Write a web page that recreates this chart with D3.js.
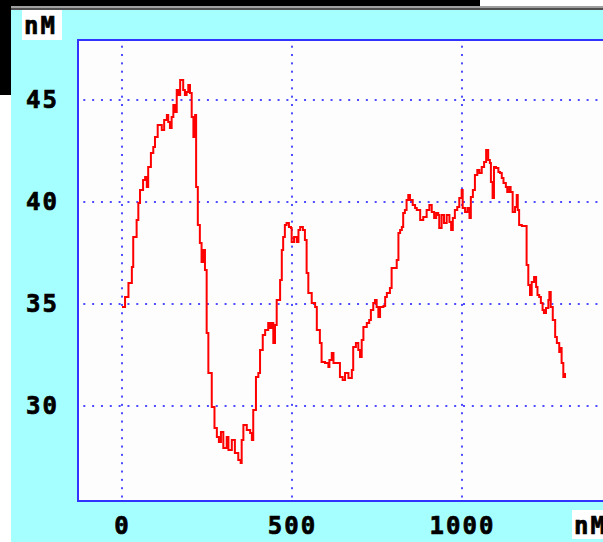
<!DOCTYPE html>
<html>
<head>
<meta charset="utf-8">
<script src="https://cdn.jsdelivr.net/npm/d3@7"></script>
<style>
  body { margin: 0; background: #fff; }
  svg { display: block; }
</style>
</head>
<body>
<div id="chart"></div>
<script>
// concentration trace
var times = [
  0, 9, 19, 29, 33, 43, 48, 53, 62, 68,
  73, 77, 85, 92, 97, 105, 117, 124, 132, 136,
  141, 146, 151, 156, 161, 166, 171, 176, 180, 185,
  190, 195, 200, 205, 210, 215, 218, 223, 229, 234,
  239, 244, 249, 254, 264, 272, 279, 285, 291, 298,
  308, 313, 323, 332, 342, 349, 352, 357, 367, 377,
  382, 386, 394, 401, 406, 414, 421, 430, 435, 440,
  445, 450, 455, 465, 470, 474, 479, 484, 491, 497,
  499, 506, 514, 519, 524, 532, 538, 543, 548, 558,
  568, 573, 582, 587, 597, 607, 610, 617, 622, 632,
  641, 649, 656, 666, 676, 680, 688, 695, 700, 705,
  710, 720, 727, 732, 739, 744, 749, 754, 759, 769,
  774, 779, 788, 793, 803, 808, 813, 818, 823, 827,
  832, 837, 842, 847, 855, 862, 867, 877, 886, 896,
  904, 911, 918, 924, 930, 933, 940, 947, 955, 963,
  968, 973, 979, 986, 992, 999, 1002, 1009, 1016, 1022,
  1026, 1032, 1038, 1045, 1051, 1058, 1065, 1071, 1077, 1082,
  1085, 1090, 1094, 1100, 1107, 1112, 1117, 1122, 1129, 1133,
  1139, 1143, 1149, 1156, 1161, 1164, 1168, 1176, 1185, 1190,
  1195, 1200, 1205, 1212, 1218, 1222, 1227, 1232, 1237, 1241,
  1247, 1254, 1257, 1261, 1267, 1274, 1279, 1286, 1290, 1293,
  1298, 1303
];
var conc = [
  34.85, 35.34, 36.03, 36.81, 38.28, 39.12, 39.95, 40.59, 41.08, 41.23,
  40.74, 41.72, 42.40, 42.70, 43.19, 43.77, 43.53, 44.02, 44.26, 43.92,
  43.63, 44.17, 44.75, 44.41, 45.49, 45.25, 45.98, 45.98, 45.49, 45.25,
  45.39, 45.74, 45.34, 44.17, 43.19, 44.26, 40.74, 38.87, 37.99, 37.06,
  37.65, 36.67, 33.58, 31.62, 29.95, 28.92, 28.48, 28.24, 28.73, 27.94,
  28.48, 27.84, 28.33, 27.70, 27.35, 27.21, 28.33, 29.07, 28.82, 28.68,
  28.33, 29.80, 31.42, 31.62, 32.75, 33.48, 33.73, 34.07, 33.82, 34.07,
  33.09, 33.97, 35.20, 36.18, 37.65, 38.28, 38.87, 38.97, 38.77, 38.73,
  38.04, 38.28, 38.04, 38.63, 38.77, 38.63, 38.14, 36.52, 35.54, 35.05,
  34.85, 33.73, 33.09, 32.16, 32.11, 31.91, 32.25, 32.60, 32.11, 32.11,
  31.42, 31.27, 31.62, 31.37, 31.76, 32.89, 33.09, 32.75, 32.40, 33.24,
  33.87, 34.07, 34.22, 34.71, 35.05, 35.20, 34.85, 34.36, 34.85, 34.90,
  35.34, 35.54, 35.78, 36.76, 36.76, 37.16, 38.48, 38.63, 38.77, 39.46,
  39.61, 40.10, 40.34, 40.10, 39.85, 39.71, 39.61, 39.12, 39.26, 39.61,
  39.85, 39.51, 39.22, 39.46, 39.36, 38.73, 39.36, 38.97, 39.36, 39.02,
  38.63, 39.22, 39.61, 39.75, 40.20, 40.59, 39.71, 39.51, 39.71, 39.22,
  40.25, 40.59, 41.32, 41.57, 41.42, 41.72, 41.96, 42.55, 42.06, 41.91,
  40.98, 40.20, 41.72, 41.67, 41.47, 41.42, 41.18, 40.93, 40.74, 40.49,
  40.74, 40.49, 39.51, 39.75, 40.34, 39.61, 38.87, 38.82, 38.82, 36.91,
  35.93, 35.44, 36.08, 36.32, 35.83, 35.44, 35.34, 35.05, 34.71, 34.56,
  34.80, 35.20, 35.59, 34.85, 34.22, 33.38, 33.09, 32.65, 32.84, 32.11,
  31.42, 31.62
];
var xTicks = [0, 500, 1000];
var yTicks = [30, 35, 40, 45];
var unitLabel = 'nM';

var W = 603, H = 542;
var plotLeft = 78, plotTop = 40, plotBottom = 501;
var labelFont = '"DejaVu Sans Mono", monospace';

var x = d3.scaleLinear().domain([0, 1000]).range([122, 462]);
var y = d3.scaleLinear().domain([30, 45]).range([406, 100]);

var svg = d3.select('#chart').append('svg').attr('width', W).attr('height', H);

// window frame bits
svg.append('rect').attr('width', W).attr('height', H).attr('fill', '#fff');
svg.append('rect').attr('x', 0).attr('y', 0).attr('width', 480).attr('height', 6).attr('fill', '#000');
svg.append('rect').attr('x', 0).attr('y', 0).attr('width', 11).attr('height', 95).attr('fill', '#000');
svg.append('rect').attr('x', 11).attr('y', 6).attr('width', W - 11).attr('height', 2).attr('fill', '#a0a0a0');
svg.append('rect').attr('x', 11).attr('y', 8).attr('width', W - 11).attr('height', 2).attr('fill', '#505050');
svg.append('rect').attr('x', 11).attr('y', 10).attr('width', W - 11).attr('height', H - 10).attr('fill', '#a6ffff');

// plot area
svg.append('rect')
  .attr('x', plotLeft).attr('y', plotTop)
  .attr('width', W - plotLeft + 10).attr('height', plotBottom - plotTop)
  .attr('fill', '#fdfdfd').attr('stroke', '#3333ff').attr('stroke-width', 2);

// dotted grid
var grid = svg.append('g').attr('fill', '#4d4dff');
yTicks.forEach(function (t) {
  grid.selectAll(null).data(d3.range(84.3, W, 8.83)).enter().append('rect')
    .attr('x', function (d) { return d - 1; })
    .attr('y', Math.round(y(t)) - 1)
    .attr('width', 2).attr('height', 2);
});
xTicks.forEach(function (t) {
  grid.selectAll(null).data(d3.range(46.7, plotBottom - 3, 8.33)).enter().append('rect')
    .attr('x', Math.round(x(t)) - 1)
    .attr('y', function (d) { return d - 1; })
    .attr('width', 2).attr('height', 2);
});

// trace
var line = d3.line()
  .x(function (d, i) { return x(times[i]); })
  .y(function (d) { return y(d); })
  .curve(d3.curveStepAfter);
svg.append('path')
  .datum(conc)
  .attr('d', line)
  .attr('fill', 'none')
  .attr('stroke', '#ff0000')
  .attr('stroke-width', 2);

// axes
var yAxis = svg.append('g')
  .attr('transform', 'translate(' + plotLeft + ',0)')
  .call(d3.axisLeft(y).tickValues(yTicks).tickSize(0).tickPadding(19).tickFormat(d3.format('d')));
var xAxis = svg.append('g')
  .attr('transform', 'translate(0,' + plotBottom + ')')
  .call(d3.axisBottom(x).tickValues(xTicks).tickSize(0).tickPadding(16).tickFormat(d3.format('d')));

function boldLabel(sel) {
  sel.attr('fill', '#000')
    .attr('stroke', '#000')
    .attr('stroke-width', 0.7)
    .style('font-family', labelFont)
    .style('font-weight', 'bold')
    .style('font-size', '24px')
    .style('letter-spacing', '2px');
}
[yAxis, xAxis].forEach(function (g) {
  g.select('.domain').remove();
  g.selectAll('text').call(boldLabel);
});

// unit labels
function unitBox(bx, by, bw, bh) {
  svg.append('rect').attr('x', bx).attr('y', by).attr('width', bw).attr('height', bh).attr('fill', '#fff');
  svg.append('text')
    .attr('x', bx + 2).attr('y', by + 24)
    .text(unitLabel)
    .call(boldLabel);
}
unitBox(22, 10, 40, 30);
unitBox(572, 510, 40, 29);
</script>
</body>
</html>
